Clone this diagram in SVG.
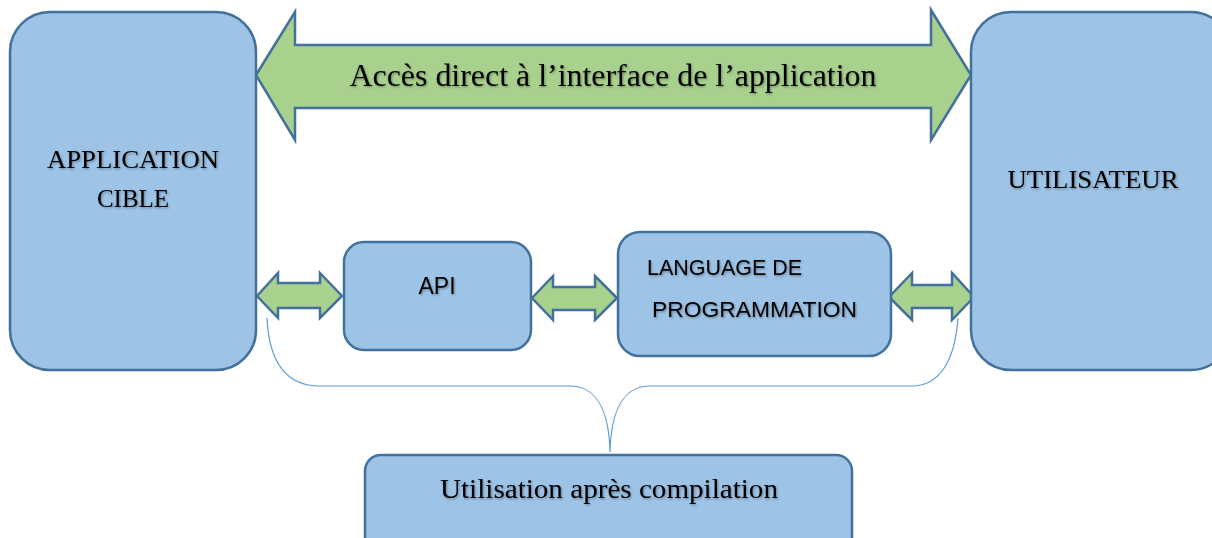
<svg xmlns="http://www.w3.org/2000/svg" width="1212" height="538" viewBox="0 0 1212 538">
<defs>
<filter id="sh" x="-5%" y="-20%" width="110%" height="140%"><feDropShadow dx="1" dy="1.2" stdDeviation="0.8" flood-color="#000" flood-opacity="0.35"/></filter>
<style>
.box{fill:#9DC3E6;stroke:#41719C;stroke-width:2.5}
.arr{fill:#A9D18E;stroke:#41719C;stroke-width:2.5;stroke-linejoin:miter}
.serif{font-family:"Liberation Serif","Times New Roman",serif;fill:#000;filter:url(#sh)}
.sans{font-family:"Liberation Sans",Arial,sans-serif;fill:#000;filter:url(#sh)}
.brace{fill:none;stroke:#5B9BD5;stroke-width:1.2}
</style>
</defs>
<rect width="1212" height="538" fill="#fff"/>
<g id="connectors">
<polygon id="big-arrow" class="arr" points="256,75 295,12 295,45 931,45 931,10 971,75 931,140 931,108 295,108 295,140"/>
<polygon id="arrow-app-api" class="arr" points="257,296 278,273 278,283 320,283 320,273 342,296 320,318 320,308 278,308 278,318"/>
<polygon id="arrow-api-lang" class="arr" points="532,298 553,276 553,287 595,287 595,276 617,298 595,320 595,310 553,310 553,320"/>
<polygon id="arrow-lang-user" class="arr" points="889,297 912,273 912,285 952,285 952,273 974,297 952,320 952,308 912,308 912,320"/>
<path id="brace" class="brace" d="M267,318 C269,360 285,386 320,386 L570,386 C596,386 609,410 610,452 C611,410 624,386 650,386 L912,386 C940,386 955,360 958,318"/>
<text class="serif" x="613" y="86" font-size="31" text-anchor="middle" textLength="527" lengthAdjust="spacingAndGlyphs">Accès direct à l’interface de l’application</text>
</g>
<g id="node-application">
<rect class="box" x="10" y="12" width="246" height="358" rx="40"/>
<text class="serif" x="133" y="168" font-size="25" text-anchor="middle" textLength="172" lengthAdjust="spacingAndGlyphs">APPLICATION</text>
<text class="serif" x="133" y="207" font-size="25" text-anchor="middle">CIBLE</text>
</g>
<g id="node-utilisateur">
<rect class="box" x="971" y="12" width="260" height="358" rx="40"/>
<text class="serif" x="1093" y="188" font-size="25" text-anchor="middle" textLength="171" lengthAdjust="spacingAndGlyphs">UTILISATEUR</text>
</g>
<g id="node-api">
<rect class="box" x="344" y="242" width="187" height="108" rx="20"/>
<text class="sans" x="437" y="294" font-size="23" text-anchor="middle">API</text>
</g>
<g id="node-langage">
<rect class="box" x="618" y="232" width="273" height="124" rx="22"/>
<text class="sans" x="647" y="275" font-size="22" textLength="155" lengthAdjust="spacingAndGlyphs">LANGUAGE DE</text>
<text class="sans" x="652" y="317" font-size="22" textLength="205" lengthAdjust="spacingAndGlyphs">PROGRAMMATION</text>
</g>
<g id="node-compilation">
<rect class="box" x="365" y="455" width="487" height="100" rx="16"/>
<text class="serif" x="609" y="498" font-size="28" text-anchor="middle" textLength="338" lengthAdjust="spacingAndGlyphs">Utilisation après compilation</text>
</g>
</svg>
